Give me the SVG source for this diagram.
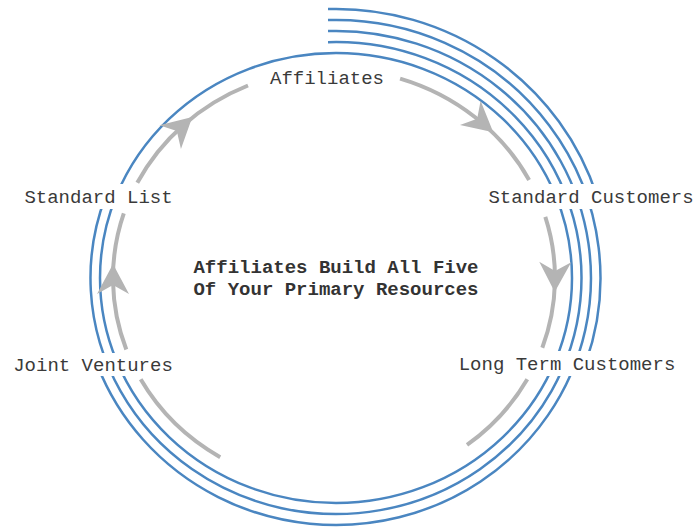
<svg xmlns="http://www.w3.org/2000/svg" width="699" height="531" viewBox="0 0 699 531">
<style>
.blue{fill:none;stroke:#4a86c1;stroke-width:2.5}
.gray{fill:none;stroke:#b4b4b4;stroke-width:4}
.head{fill:#b4b4b4}
.lbl{font-family:"Liberation Mono","Courier New",monospace;font-size:19px;fill:#3a3a3a}
.ctr{font-family:"Liberation Mono","Courier New",monospace;font-size:19px;font-weight:bold;fill:#333;text-anchor:middle}
.bg{fill:#fff}
</style>
<defs>
<polygon id="ah" points="16,0 -14,-16 -5,0 -14,16"/>
</defs>
<rect width="699" height="531" fill="#fff"/>
<g id="spiral">
<ellipse class="blue" cx="336" cy="278" rx="236" ry="225"/>
<path class="blue" d="M328,42.13 A245.5 236 0 1 1 105.4,197"/>
<path class="blue" d="M328,31.12 A255 247 0 1 1 97.3,365"/>
<path class="blue" d="M328,20.12 A264.5 258 0 0 1 585.7,363"/>
<path class="blue" d="M328,9.12 A274 269 0 0 1 597.3,197"/>
</g>
<g id="connectors">
<path class="gray" d="M137.3,182.8 A221 209 0 0 1 248,85.5"/>
<path class="gray" d="M400.1,78.6 A221 209 0 0 1 529.1,179.9"/>
<path class="gray" d="M545.3,216.9 A221 209 0 0 1 542.3,347.8"/>
<path class="gray" d="M527.3,379.3 A221 209 0 0 1 467,444.9"/>
<path class="gray" d="M220.2,457.2 A221 209 0 0 1 140.7,379.3"/>
<path class="gray" d="M126.3,349.5 A221 209 0 0 1 123.8,213.4"/>
<use href="#ah" class="head" transform="translate(180.5,127.7) rotate(-42.4)"/>
<use href="#ah" class="head" transform="translate(481,121.9) rotate(40.1)"/>
<use href="#ah" class="head" transform="translate(555,276) rotate(91)"/>
<use href="#ah" class="head" transform="translate(113,280) rotate(-90)"/>
</g>
<g id="affiliates">
<rect class="bg" x="266" y="66" width="122" height="24"/>
<text class="lbl" x="327" y="84" text-anchor="middle">Affiliates</text>
</g>
<g id="standard-customers">
<rect class="bg" x="487" y="184" width="210" height="25"/>
<text class="lbl" x="591" y="203" text-anchor="middle">Standard Customers</text>
</g>
<g id="long-term-customers">
<rect class="bg" x="455" y="351" width="225" height="25"/>
<text class="lbl" x="567" y="370" text-anchor="middle">Long Term Customers</text>
</g>
<g id="joint-ventures">
<rect class="bg" x="10" y="353" width="166" height="23"/>
<text class="lbl" x="93" y="371" text-anchor="middle">Joint Ventures</text>
</g>
<g id="standard-list">
<rect class="bg" x="21" y="184" width="155" height="25"/>
<text class="lbl" x="98.5" y="203" text-anchor="middle">Standard List</text>
</g>
<g id="center">
<text class="ctr" x="336" y="273">Affiliates Build All Five</text>
<text class="ctr" x="336" y="295">Of Your Primary Resources</text>
</g>
</svg>
